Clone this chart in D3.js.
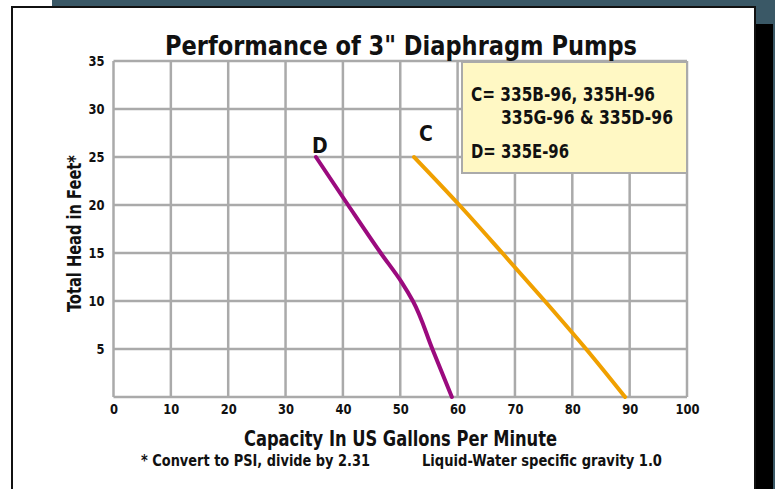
<!DOCTYPE html>
<html lang="en">
<head>
    <meta charset="UTF-8">
    <title>Performance of 3" Diaphragm Pumps</title>
    <script src="https://d3js.org/d3.v7.min.js"></script>
    <style>
        body { margin: 0; background: #fff; }
        svg text {
            font-family: "Liberation Sans Narrow", "DejaVu Sans Condensed", "Liberation Sans", sans-serif;
            font-weight: bold;
            fill: #111;
        }
    </style>
</head>
<body>
<script>
// Data
const xTicks = [0, 10, 20, 30, 40, 50, 60, 70, 80, 90, 100];
const yTicks = [5, 10, 15, 20, 25, 30, 35];
const curveC = [[52.4, 25], [60.3, 20], [67.8, 15], [75.2, 10], [82.4, 5], [89.2, 0]];
const curveD = [[35.3, 25], [40.9, 20], [46.6, 15], [50.2, 12], [52.2, 10], [55.6, 5], [59.0, 0]];
const legendLines = ["C= 335B-96, 335H-96", "335G-96 & 335D-96", "D= 335E-96"];

const W = 775, H = 489;
const svg = d3.select("body").append("svg")
    .attr("width", W)
    .attr("height", H);

// squeeze text to the width it takes in the original condensed face
function fit(sel, len) {
    return sel.attr("textLength", len).attr("lengthAdjust", "spacingAndGlyphs");
}

// Frame and background decorations
svg.append("rect").attr("x", 52).attr("y", 0).attr("width", W - 52).attr("height", 24).attr("fill", "#3a5866");
svg.append("rect").attr("x", 773).attr("y", 0).attr("width", 2).attr("height", H).attr("fill", "#3a5866");
svg.append("rect").attr("x", 755).attr("y", 24).attr("width", 18).attr("height", H - 24).attr("fill", "#000");
svg.append("rect").attr("x", 12).attr("y", 7).attr("width", 743).attr("height", H + 10)
    .attr("fill", "#fff").attr("stroke", "#111").attr("stroke-width", 2);

// Scales
const x = d3.scaleLinear().domain([0, 100]).range([113.5, 687]);
const y = d3.scaleLinear().domain([0, 35]).range([397, 61]);

// Grid
const grid = svg.append("g").attr("stroke", "#aaaaaa").attr("stroke-width", 2.5);
grid.selectAll(".vx").data(xTicks).join("line")
    .attr("x1", d => x(d)).attr("x2", d => x(d))
    .attr("y1", y(0)).attr("y2", y(35));
grid.selectAll(".hy").data([0].concat(yTicks)).join("line")
    .attr("x1", x(0)).attr("x2", x(100))
    .attr("y1", d => y(d)).attr("y2", d => y(d));

// Axes (labels only, grid drawn above)
const xAxis = svg.append("g")
    .attr("transform", `translate(0,${y(0)})`)
    .call(d3.axisBottom(x).tickValues(xTicks).tickSize(0).tickPadding(7));
const yAxis = svg.append("g")
    .attr("transform", `translate(${x(0) - 4},0)`)
    .call(d3.axisLeft(y).tickValues(yTicks).tickSize(0).tickPadding(5));
[xAxis, yAxis].forEach(a => {
    a.select(".domain").remove();
    a.selectAll("text").style("font-size", "14.5px").attr("fill", "#111")
        .each(function (d) { fit(d3.select(this), String(d).length * 8); });
});

// Legend box
svg.append("rect")
    .attr("x", 462).attr("y", 62).attr("width", x(100) - 462).attr("height", 111)
    .attr("fill", "#fff8c4").attr("stroke", "#aaaaaa").attr("stroke-width", 2);
const legend = svg.append("g").style("font-size", "19px");
fit(legend.append("text").attr("x", 471).attr("y", 101).text(legendLines[0]), 184);
fit(legend.append("text").attr("x", 501).attr("y", 124).text(legendLines[1]), 172);
fit(legend.append("text").attr("x", 471).attr("y", 158).text(legendLines[2]), 98);

// Curves
const line = d3.line().x(d => x(d[0])).y(d => y(d[1])).curve(d3.curveMonotoneY);
svg.append("path").datum(curveD).attr("d", line)
    .attr("fill", "none").attr("stroke", "#9b0a7e").attr("stroke-width", 4).attr("stroke-linecap", "round");
svg.append("path").datum(curveC).attr("d", line)
    .attr("fill", "none").attr("stroke", "#f0a000").attr("stroke-width", 4).attr("stroke-linecap", "round");

// Curve labels
svg.append("text").attr("x", x(curveD[0][0]) + 4).attr("y", y(25) - 4)
    .attr("text-anchor", "middle").style("font-size", "21px").text("D");
svg.append("text").attr("x", x(curveC[0][0]) + 12).attr("y", y(25) - 16)
    .attr("text-anchor", "middle").style("font-size", "21px").text("C");

// Titles
fit(svg.append("text").attr("x", 165).attr("y", 55)
    .style("font-size", "27px").text("Performance of 3\" Diaphragm Pumps"), 472);
fit(svg.append("text").attr("x", 244).attr("y", 446)
    .style("font-size", "21px").text("Capacity In US Gallons Per Minute"), 313);
fit(svg.append("text")
    .attr("transform", `translate(81,312) rotate(-90)`)
    .style("font-size", "19px").text("Total Head in Feet*"), 157);
fit(svg.append("text").attr("x", 141).attr("y", 466)
    .style("font-size", "15px").text("* Convert to PSI, divide by 2.31"), 229);
fit(svg.append("text").attr("x", 422).attr("y", 466)
    .style("font-size", "15px").text("Liquid-Water specific gravity 1.0"), 240);
</script>
</body>
</html>
